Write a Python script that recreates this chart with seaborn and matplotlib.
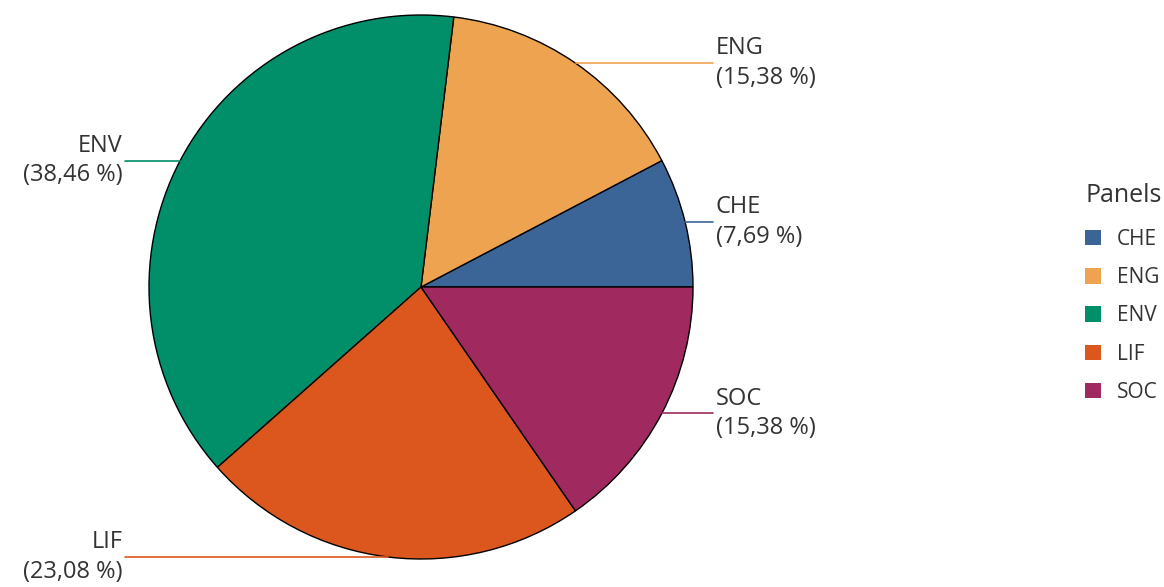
import numpy as np
import matplotlib
matplotlib.use("Agg")
import matplotlib.pyplot as plt
from matplotlib.patches import Patch
import seaborn as sns

# -- data
panels = ["CHE", "ENG", "ENV", "LIF", "SOC"]
counts = [1, 2, 5, 3, 2]
pct_labels = ["7,69 %", "15,38 %", "38,46 %", "23,08 %", "15,38 %"]
colors = ["#3b6597", "#eda350", "#008f69", "#dc571e", "#a02a5f"]

sns.set_theme(style="white")
plt.rcParams["font.family"] = ["Open Sans", "DejaVu Sans"]
palette = sns.color_palette(colors)

W, H = 1164, 587
cx, cy, r = 421, 287, 272

fig = plt.figure(figsize=(W / 100, H / 100), dpi=100)
ax = fig.add_axes([(cx - r) / W, (H - cy - r) / H, 2 * r / W, 2 * r / H])

wedges, _ = ax.pie(counts, colors=palette, startangle=0, counterclock=True,
                   radius=1, wedgeprops=dict(edgecolor="black", linewidth=1))
ax.set_xlim(-1, 1)
ax.set_ylim(-1, 1)
ax.set_aspect("equal")
ax.axis("off")

# -- labels with horizontal leader lines
x_right = (713 - cx) / r
x_left = (125 - cx) / r
for w, name, pct, col in zip(wedges, panels, pct_labels, palette):
    mid = np.deg2rad((w.theta1 + w.theta2) / 2)
    px, py = np.cos(mid), np.sin(mid)
    if px >= 0:
        ax.plot([px, x_right], [py, py], color=col, lw=1.2, clip_on=False)
        ax.text(x_right + 0.01, py, f"{name}\n({pct})", ha="left", va="center",
                fontsize=17, color="#333333", clip_on=False, linespacing=1.32)
    else:
        ax.plot([px, x_left], [py, py], color=col, lw=1.2, clip_on=False)
        ax.text(x_left - 0.01, py, f"{name}\n({pct})", ha="right", va="center",
                fontsize=17, color="#333333", clip_on=False, linespacing=1.32)

handles = [Patch(facecolor=c, edgecolor="none") for c in palette]
leg = fig.legend(handles, panels, title="Panels", loc="upper left",
                 bbox_to_anchor=(1085 / W, 1 - 183 / H), frameon=False,
                 fontsize=15, title_fontsize=18, handlelength=0.77, handleheight=0.77,
                 labelspacing=0.83, handletextpad=0.77, borderpad=0, borderaxespad=0)
leg._legend_box.align = "left"
leg._legend_box.sep += 2.5
for t in leg.get_texts():
    t.set_color("#333333")
leg.get_title().set_color("#333333")

fig.savefig("out.png", dpi=100)
